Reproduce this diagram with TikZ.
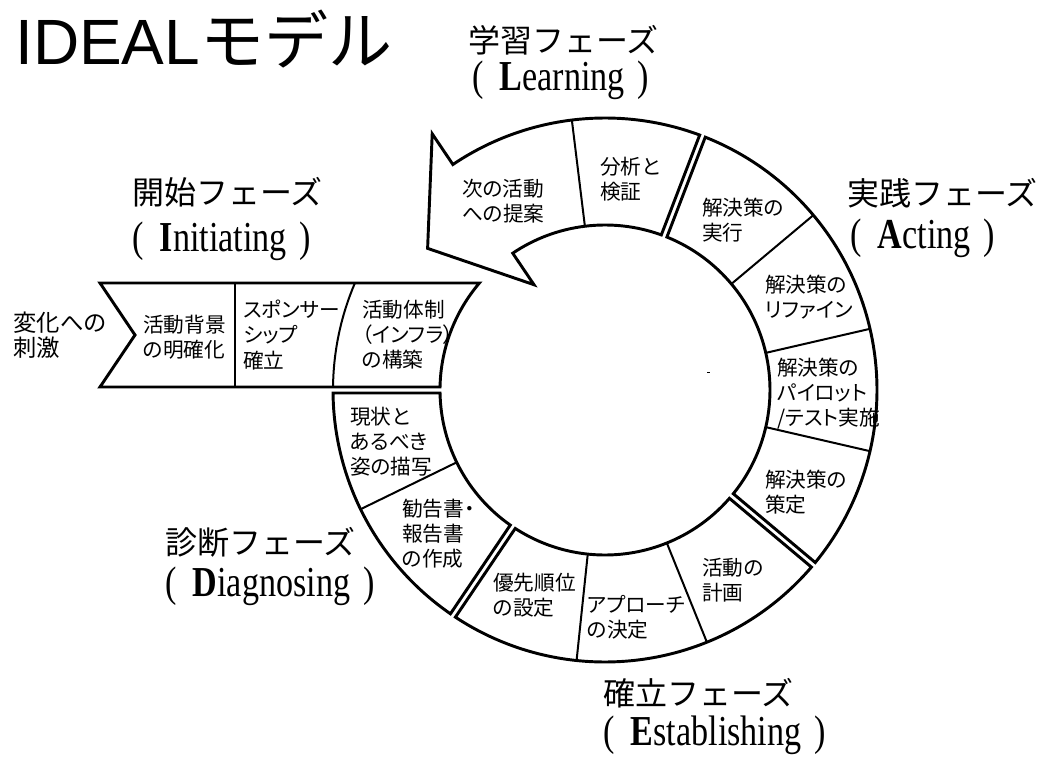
\documentclass[tikz,border=0pt]{standalone}
\usepackage{fontspec}
\setmainfont{Liberation Serif}
\newfontfamily\jpg{Noto Sans CJK JP}
\newfontfamily\jpt{Noto Sans CJK JP}
\newfontfamily\jpp[RawFeature=+palt]{Noto Sans CJK JP}
\newfontfamily\arialf{Liberation Sans}
\newfontfamily\enserif[FakeStretch=0.8]{Liberation Serif}
\usetikzlibrary{calc}
\begin{document}
\begin{tikzpicture}[x=0.75pt,y=0.75pt,
  outline/.style={line width=2.2pt, line join=miter},
  divider/.style={line width=1.5pt},
  ringtext/.style={anchor=west, align=left, inner sep=0pt, font=\jpp\fontsize{15.5pt}{18.8pt}\selectfont},
  phasejp/.style={anchor=west, inner sep=0pt, font=\jpg\fontsize{24pt}{28pt}\selectfont},
  phaseen/.style={anchor=west, inner sep=0pt, font=\enserif\fontsize{32pt}{36pt}\selectfont},
]
\useasboundingbox (0,0) rectangle (1053,758);
\begin{scope}[shift={(605,368)}]
% ---------------- Initiating chevron
\draw[outline] (-505,107) -- (139.57:165) arc[start angle=139.57, end angle=178.96, radius=165]
  -- (-505,3) -- (-470,55) -- cycle;
\draw[divider] (-370,3) -- (-370,107);
\draw[divider] (156.84:272) arc[start angle=156.84, end angle=179.37, radius=272];
% ---------------- Diagnosing group
\draw[outline] (-124.63:272) arc[start angle=-124.63, end angle=-179.37, radius=272]
  -- (-178.96:165) arc[start angle=-178.96, end angle=-125.04, radius=165] -- cycle;
\draw[divider] (-154:165) -- (-154:272);
% ---------------- Establishing group
\draw[outline] (-40.63:272) arc[start angle=-40.63, end angle=-123.37, radius=272]
  -- (-122.96:165) arc[start angle=-122.96, end angle=-41.04, radius=165] -- cycle;
\draw[divider] (-68:165) -- (-68:272);
\draw[divider] (-96:165) -- (-96:272);
% ---------------- Acting group
\draw[outline] (68.37:272) arc[start angle=68.37, end angle=-39.37, radius=272]
  -- (-38.96:165) arc[start angle=-38.96, end angle=67.96, radius=165] -- cycle;
\draw[divider] (40:165) -- (40:272);
\draw[divider] (13:165) -- (13:272);
\draw[divider] (-13:165) -- (-13:272);
% ---------------- Learning arrow
\draw[outline] (69.63:272) arc[start angle=69.63, end angle=124, radius=272]
  -- (124:309) -- (141.4:227) -- (124:127) -- (124:165)
  arc[start angle=124, end angle=70.04, radius=165] -- cycle;
\draw[divider] (97:165) -- (97:272);
% tiny speck
\draw[line width=0.6pt] (102,18) -- (105,18);
% ---------------- Ring texts
\node[anchor=west, align=left, inner sep=0pt, font=\jpp\fontsize{17.5pt}{19pt}\selectfont] (stim) at (-592,55) {変化への\\刺激};
\node[ringtext] (t1) at (-462,53) {活動背景\\の明確化};
\node[ringtext] (t2) at (-362,55) {スポンサー\\シップ\\確立};
\node[ringtext] (t3) at (-243,55) {活動体制\\（インフラ）\\の構築};
\node[ringtext] (d1) at (-255,-52) {現状と\\あるべき\\姿の描写};
\node[ringtext] (d2) at (-203,-144) {勧告書・\\報告書\\の作成};
\node[ringtext] (e1) at (-112,-205) {優先順位\\の設定};
\node[ringtext] (e2) at (-18,-227) {アプローチ\\の決定};
\node[ringtext] (e3) at (97,-190) {活動の\\計画};
\node[ringtext] (a1) at (160,-102) {解決策の\\策定};
\node[ringtext] (a2) at (172,-4) {解決策の\\パイロット\\/テスト実施};
\node[ringtext] (a3) at (160,93) {解決策の\\リファイン};
\node[ringtext] (a4) at (97,170) {解決策の\\実行};
\node[ringtext] (l1) at (-5,211) {分析と\\検証};
\node[ringtext] (l2) at (-143,189) {次の活動\\への提案};
% ---------------- Phase labels
\node[anchor=west, inner sep=0pt] (title) at (-590,351)
  {\arialf\fontsize{48pt}{52pt}\selectfont IDEAL\jpt モデル};
\node[phasejp] (pl) at (-137,350) {学習フェーズ};
\node[phaseen] (ple) at (-133,310) {(\hspace{0.38em}\textbf{L}earning\hspace{0.3em})};
\node[phasejp] (pi) at (-473,198) {開始フェーズ};
\node[phaseen] (pie) at (-473,149) {(\hspace{0.38em}\textbf{I}nitiating\hspace{0.3em})};
\node[phasejp] (pa) at (242,197) {実践フェーズ};
\node[phaseen] (pae) at (245,152) {(\hspace{0.38em}\textbf{A}cting\hspace{0.3em})};
\node[phasejp] (pd) at (-440,-152) {診断フェーズ};
\node[phaseen] (pde) at (-440,-196) {(\hspace{0.38em}\textbf{D}iagnosing\hspace{0.3em})};
\node[phasejp] (pe) at (-2,-303) {確立フェーズ};
\node[phaseen] (pee) at (-2,-345) {(\hspace{0.38em}\textbf{E}stablishing\hspace{0.3em})};
\end{scope}
\end{tikzpicture}
\end{document}
